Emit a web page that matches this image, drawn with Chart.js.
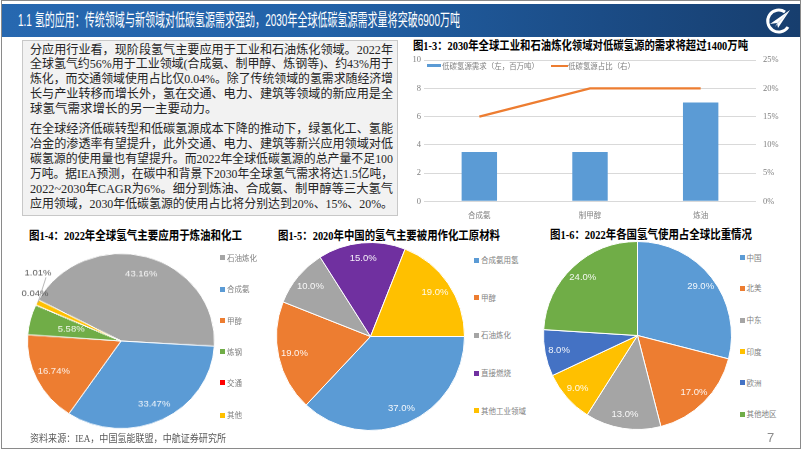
<!DOCTYPE html>
<html><head><meta charset="utf-8">
<script src="https://cdn.jsdelivr.net/npm/chart.js@4.4.1/dist/chart.umd.min.js"></script>
<style>
*{box-sizing:border-box}
html,body{margin:0;padding:0;background:#fff}
body{width:802px;height:451px;position:relative;overflow:hidden;font-family:'Liberation Serif','Noto Sans CJK SC',serif;color:#262626}
.a{position:absolute;white-space:nowrap}
.fit{display:inline-block;transform-origin:left center}
#frame{left:1px;top:0;width:800px;height:449px;border:1px solid #8a8a8a}
#bar{left:2px;top:4px;width:798px;height:33px;background:linear-gradient(90deg,#2768b0 0%,#2262a8 40%,#1b4c86 75%,#173e6e 100%)}
#title{left:18px;top:11px;line-height:20px;height:20px;font-size:17px;color:#fff;font-family:'Liberation Sans','Noto Sans CJK SC',sans-serif}
#box{left:22px;top:40px;width:376px;height:176px;background:#f2f2f2;border:1px solid #c8c8c8}
.ln{left:30px;height:15px;line-height:15px;font-size:12.5px;color:#262626}
.ct{font-weight:bold;font-size:12.5px;line-height:16px;height:16px;color:#000}
.lg{font-size:7.5px;color:#7f7f7f;line-height:10px;height:10px;font-family:'Noto Sans CJK SC',sans-serif}
.sq{width:5px;height:5px}
.pie{position:absolute}
</style></head>
<body>
<div id="frame" class="a"></div>
<div id="bar" class="a"></div>
<div id="title" class="a"><span class="fit" data-w="442">1.1 氢的应用：传统领域与新领域对低碳氢源需求强劲，2030年全球低碳氢源需求量将突破6900万吨</span></div>
<svg class="a" style="left:763px;top:6px" width="30" height="31" viewBox="0 0 30 31">
  <path d="M22 6 A11 11 0 1 0 25 21" fill="none" stroke="#fff" stroke-width="3"/>
  <polygon points="7,18 27,4 15,22 14,17" fill="#fff"/>
  <polygon points="14,17 27,4 12,21" fill="#cfd9e6"/>
</svg>
<div id="box" class="a"></div>
<div id="lines"></div>

<div class="a ct" style="left:413px;top:38px"><span class="fit" data-w="335">图1-3：2030年全球工业和石油炼化领域对低碳氢源的需求将超过1400万吨</span></div>
<div class="a ct" style="left:29px;top:228px"><span class="fit" data-w="213">图1-4：2022年全球氢气主要应用于炼油和化工</span></div>
<div class="a ct" style="left:278px;top:228px"><span class="fit" data-w="222">图1-5：2020年中国的氢气主要被用作化工原材料</span></div>
<div class="a ct" style="left:550px;top:227px"><span class="fit" data-w="202">图1-6：2022年各国氢气使用占全球比重情况</span></div>

<div class="a" style="left:400px;top:48px;width:400px;height:178px"><canvas id="barChart" width="400" height="178"></canvas></div>
<div class="a" style="left:427px;top:63.5px;width:14px;height:3.5px;background:#5b9bd5"></div>
<div class="a lg" id="lgBar" style="left:441.5px;top:60.5px"><span class="fit" data-w="97"></span></div>
<div class="a" style="left:551px;top:64.5px;width:17px;height:2px;background:#ed7d31"></div>
<div class="a lg" id="lgLine" style="left:568px;top:60.5px"><span class="fit" data-w="67"></span></div>

<div class="pie" style="left:12px;top:232px;width:218px;height:218px;transform:scaleY(0.936)"><canvas id="pie1"></canvas></div>
<div class="pie" style="left:276px;top:242px;width:189px;height:189px"><canvas id="pie2"></canvas></div>
<div class="pie" style="left:543px;top:241px;width:189px;height:189px"><canvas id="pie3"></canvas></div>
<div id="legends"></div>

<div class="a" style="left:30px;top:432px;font-size:10.5px;line-height:14px;height:14px;color:#595959"><span class="fit" data-w="196">资料来源：IEA，中国氢能联盟，中航证券研究所</span></div>
<div class="a" style="left:767px;top:430px;font-size:13px;line-height:16px;color:#8c8c8c;font-family:'Liberation Sans',sans-serif">7</div>

<script>
// ---------- data ----------
const barCategories = ['合成氨', '制甲醇', '炼油'];
const demandLabel = '低碳氢源需求（左，百万吨）';
const shareLabel = '低碳氢源占比（右）';
const demandValues = [3.5, 3.5, 7];      // 百万吨
const shareValues = [15, 20, 20];        // %
const leftAxisMax = 10, leftAxisStep = 2;
const rightAxisMax = 25, rightAxisStep = 5;

const pie1Labels = ['石油炼化', '合成氨', '甲醇', '炼钢', '交通', '其他'];
const pie1Values = [43.16, 33.47, 16.74, 5.58, 0.04, 1.01];
const pie2Labels = ['合成氨用氢', '甲醇', '石油炼化', '直接燃烧', '其他工业领域'];
const pie2Values = [37.0, 19.0, 10.0, 15.0, 19.0];
const pie3Labels = ['中国', '北美', '中东', '印度', '欧洲', '其他地区'];
const pie3Values = [29.0, 17.0, 13.0, 9.0, 8.0, 24.0];

// ---------- text block ----------
const para1 = [
 '分应用行业看，现阶段氢气主要应用于工业和石油炼化领域。2022年',
 '全球氢气约56%用于工业领域(合成氨、制甲醇、炼钢等)、约43%用于',
 '炼化，而交通领域使用占比仅0.04%。除了传统领域的氢需求随经济增',
 '长与产业转移而增长外，氢在交通、电力、建筑等领域的新应用是全',
 '球氢气需求增长的另一主要动力。'
];
const para2 = [
 '在全球经济低碳转型和低碳氢源成本下降的推动下，绿氢化工、氢能',
 '冶金的渗透率有望提升，此外交通、电力、建筑等新兴应用领域对低',
 '碳氢源的使用量也有望提升。而2022年全球低碳氢源的总产量不足100',
 '万吨。据IEA预测，在碳中和背景下2030年全球氢气需求将达1.5亿吨，',
 '2022~2030年CAGR为6%。细分到炼油、合成氨、制甲醇等三大氢气',
 '应用领域，2030年低碳氢源的使用占比将分别达到20%、15%、20%。'
];
const linesDiv = document.getElementById('lines');
function addLine(t, cy, full){
  const d = document.createElement('div');
  d.className = 'a ln'; d.style.top = (cy - 7.5) + 'px';
  const s = document.createElement('span'); s.className = 'fit'; s.textContent = t;
  if (full) s.dataset.j = '363';
  d.appendChild(s); linesDiv.appendChild(d);
}
para1.forEach((t,i)=>addLine(t, 50 + i*14.8, i < para1.length-1));
para2.forEach((t,i)=>addLine(t, 129 + i*15, true));

document.querySelector('#lgBar span').textContent = demandLabel;
document.querySelector('#lgLine span').textContent = shareLabel;

// ---------- pie legends ----------
const legDiv = document.getElementById('legends');
function addLegend(labels, colors, sqX, ys){
  labels.forEach((l,i)=>{
    const sq = document.createElement('div');
    sq.className='a sq'; sq.style.left=sqX+'px'; sq.style.top=(ys[i]-2.5)+'px'; sq.style.background=colors[i];
    legDiv.appendChild(sq);
    const t = document.createElement('div');
    t.className='a lg'; t.style.left=(sqX+7)+'px'; t.style.top=(ys[i]-5)+'px'; t.textContent=l;
    legDiv.appendChild(t);
  });
}
const pie1Colors = ['#a5a5a5','#5b9bd5','#ed7d31','#70ad47','#ff0000','#ffc000'];
const pie2Colors = ['#5b9bd5','#ed7d31','#a5a5a5','#7030a0','#ffc000'];
const pie3Colors = ['#5b9bd5','#ed7d31','#a5a5a5','#ffc000','#4472c4','#70ad47'];
addLegend(pie1Labels, pie1Colors, 220, [257.7,289,320.7,351.7,382.7,415]);
addLegend(pie2Labels, pie2Colors, 474, [260,297.7,335,373,410.7]);
addLegend(pie3Labels, pie3Colors, 739.5, [257.7,288,320,351.7,382.7,414.3]);

// ---------- fit / justify ----------
document.querySelectorAll('[data-w]').forEach(el=>{
  const w = el.getBoundingClientRect().width; const t = +el.dataset.w;
  el.style.transform = 'scaleX(' + (t/w) + ')';
});
document.querySelectorAll('[data-j]').forEach(el=>{
  const w = el.getBoundingClientRect().width; const t = +el.dataset.j;
  if (w > t) el.style.transform = 'scaleX(' + (t/w) + ')';
  else { const n = [...el.textContent].length; el.style.letterSpacing = ((t-w)/(n-1)) + 'px'; }
});

// ---------- bar + line chart ----------
const axisFont = {family:"'Liberation Serif','Noto Sans CJK SC',serif", size:8.5};
new Chart(document.getElementById('barChart'), {
  data: {
    labels: barCategories,
    datasets: [
      {type:'line', label:shareLabel, data:shareValues, yAxisID:'y1', borderColor:'#ed7d31',
       borderWidth:2.3, pointRadius:0, tension:0, order:0},
      {type:'bar', label:demandLabel, data:demandValues, yAxisID:'y', backgroundColor:'#5b9bd5',
       barPercentage:0.32, categoryPercentage:1, order:1}
    ]
  },
  options: {
    responsive:false, animation:false, devicePixelRatio:1,
    layout:{padding:{top:10.7, left:0, right:0, bottom:0}},
    plugins:{legend:{display:false}, tooltip:{enabled:false}},
    scales:{
      x:{grid:{display:false, drawTicks:false}, border:{display:false},
         ticks:{color:'#7f7f7f', padding:9, font:{family:"'Noto Sans CJK SC',sans-serif", size:7.5}},
         afterFit(s){ s.height = 24.7; }},
      y:{position:'left', min:0, max:leftAxisMax, ticks:{stepSize:leftAxisStep, color:'#7f7f7f', padding:3, font:axisFont},
         grid:{color:'#d9d9d9', drawTicks:false}, border:{display:false}, afterFit(s){ s.width = 24; }},
      y1:{position:'right', min:0, max:rightAxisMax, ticks:{stepSize:rightAxisStep, color:'#7f7f7f', padding:7, font:axisFont,
           callback:v=>v+'%'}, grid:{display:false, drawTicks:false}, border:{display:false}, afterFit(s){ s.width = 44; }}
    }
  }
});

// ---------- pies ----------
// labels at a fraction of the radius along each slice's mid-angle;
// "outside" entries place a small-slice label beside the pie (offset from centre, px) with an optional leader line
const pieLabelPlugin = {
  id:'pieLabels',
  afterDatasetsDraw(chart, args, opts){
    const meta = chart.getDatasetMeta(0);
    const ds = chart.data.datasets[0];
    const ctx = chart.ctx;
    ctx.save();
    ctx.font = "9.5px 'Liberation Sans', sans-serif";
    ctx.textAlign = 'center'; ctx.textBaseline = 'middle';
    meta.data.forEach((arc,i)=>{
      const p = arc.getProps(['x','y','startAngle','endAngle','outerRadius'], true);
      const mid = (p.startAngle + p.endAngle)/2;
      const frac = (opts.fracs && opts.fracs[i] != null) ? opts.fracs[i] : opts.frac;
      let x = p.x + Math.cos(mid)*p.outerRadius*frac, y = p.y + Math.sin(mid)*p.outerRadius*frac;
      let color = opts.color;
      const ov = opts.outside && opts.outside[i];
      if (ov){
        x = p.x + ov.dx; y = p.y + ov.dy; color = ov.color;
        if (ov.leader){
          ctx.strokeStyle = '#a6a6a6'; ctx.lineWidth = 0.8;
          ctx.beginPath(); ctx.moveTo(x+8, y+5);
          ctx.lineTo(p.x + Math.cos(mid)*p.outerRadius*0.99, p.y + Math.sin(mid)*p.outerRadius*0.99);
          ctx.stroke();
        }
      }
      ctx.fillStyle = color;
      ctx.fillText(ds.data[i].toFixed(opts.decimals) + '%', x, y);
    });
    ctx.restore();
  }
};
function makePie(id, labels, values, colors, rotation, pad, labelOpts){
  new Chart(document.getElementById(id), {
    type:'pie',
    data:{labels, datasets:[{data:values, backgroundColor:colors, borderColor:'#ffffff', borderWidth:1}]},
    options:{
      responsive:true, maintainAspectRatio:false, animation:false, rotation,
      layout:{padding:pad},
      plugins:{legend:{display:false}, tooltip:{enabled:false}, pieLabels:labelOpts}
    },
    plugins:[pieLabelPlugin]
  });
}
makePie('pie1', pie1Labels, pie1Values, pie1Colors, -62, 15, {frac:0.8, decimals:2, color:'rgba(255,255,255,0.92)',
  fracs:[null,null,null,0.55,null,null],
  outside:{4:{dx:-86, dy:-51, color:'#595959'},
           5:{dx:-83, dy:-73, color:'#595959', leader:true}}});
makePie('pie2', pie2Labels, pie2Values, pie2Colors, 90, 0, {frac:0.83, decimals:1, color:'rgba(255,255,255,0.92)'});
makePie('pie3', pie3Labels, pie3Values, pie3Colors, 0, 0, {frac:0.85, decimals:1, color:'rgba(255,255,255,0.92)'});
</script>
</body></html>
